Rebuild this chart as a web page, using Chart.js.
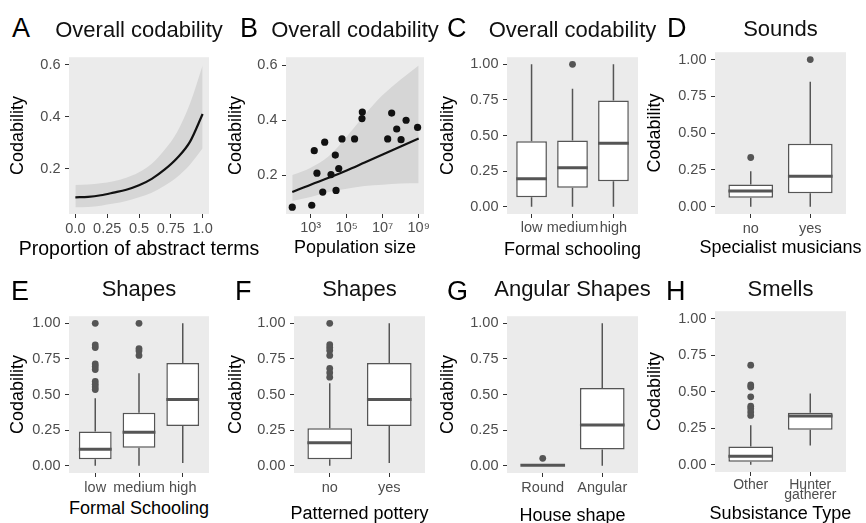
<!DOCTYPE html>
<html>
<head>
<meta charset="utf-8">
<script src="https://cdn.jsdelivr.net/npm/chart.js"></script>
<style>
  body { margin: 0; background: #fff; }
  #fig { position: relative; width: 866px; height: 523px; overflow: hidden; font-family: "Liberation Sans", Arial, sans-serif; }
  #fig canvas { position: absolute; }
  .letter { position: absolute; font-size: 27px; line-height: 1; color: #000; white-space: nowrap; }
  .title { position: absolute; font-size: 22px; line-height: 1; color: #111; white-space: nowrap; width: 300px; text-align: center; }
  .xtitle { position: absolute; font-size: 18px; line-height: 1; color: #000; white-space: nowrap; width: 300px; text-align: center; }
</style>
</head>
<body>
<div id="fig"></div>
<script>
// A: codability against proportion of abstract terms (fit and 95% band)
var abstractX    = [0, 0.1, 0.2, 0.3, 0.4, 0.5, 0.6, 0.7, 0.8, 0.9, 1.0];
var abstractFit  = [0.091, 0.093, 0.099, 0.109, 0.120, 0.137, 0.162, 0.197, 0.242, 0.304, 0.411];
var abstractLow  = [0.053, 0.054, 0.059, 0.067, 0.077, 0.091, 0.109, 0.135, 0.169, 0.216, 0.279];
var abstractHigh = [0.138, 0.140, 0.145, 0.153, 0.166, 0.187, 0.220, 0.273, 0.342, 0.450, 0.597];
var abstractTicks = [0, 0.25, 0.5, 0.75, 1];
var abstractTickLabels = ['0.0', '0.25', '0.5', '0.75', '1.0'];
var codTicks = [0.2, 0.4, 0.6];

// B: codability against population size
var popSize = [95, 1150, 1580, 2240, 4680, 6030, 13500, 23400, 25700, 36300, 55000,
               275000, 708000, 741000, 1.9e7, 3.16e7, 6.03e7, 1.05e8, 2.0e8, 8.7e8];
var popCod  = [0.083, 0.090, 0.289, 0.207, 0.138, 0.320, 0.202, 0.273, 0.144, 0.224, 0.332,
               0.332, 0.406, 0.430, 0.332, 0.426, 0.368, 0.329, 0.400, 0.374];
var popGrid = [95, 1e3, 1e4, 1e5, 1e6, 1e7, 1e8, 1e9];
var popFit  = [0.138, 0.165, 0.190, 0.217, 0.246, 0.275, 0.304, 0.333];
var popLow  = [0.105, 0.120, 0.138, 0.150, 0.160, 0.165, 0.169, 0.170];
var popHigh = [0.200, 0.227, 0.269, 0.340, 0.420, 0.492, 0.549, 0.600];
var popTicks = [1e3, 1e5, 1e7, 1e9];
var popTickLabels = ['10³', '10⁵', '10⁷', '10⁹'];

// box plots: [lower whisker, Q1, median, Q3, upper whisker] per category
var boxTicks = [0, 0.25, 0.5, 0.75, 1];

var schoolCats = ['low', 'medium', 'high'];
var schoolAll = [[0, 0.067, 0.198, 0.461, 1.0], [0, 0.134, 0.274, 0.465, 0.829], [0, 0.180, 0.447, 0.747, 1.0]];
var schoolAllOut = [[], [1.0], []];

var musicCats = ['no', 'yes'];
var musicSounds = [[0, 0.060, 0.107, 0.151, 0.240], [0, 0.091, 0.207, 0.428, 0.849]];
var musicSoundsOut = [[0.334], [1.0]];

var schoolShapes = [[0, 0.046, 0.117, 0.241, 0.475], [0, 0.128, 0.236, 0.372, 0.649], [0.02, 0.280, 0.466, 0.722, 1.0]];
var schoolShapesOut = [[1.0, 0.848, 0.830, 0.715, 0.697, 0.676, 0.592, 0.572, 0.553, 0.535], [1.0, 0.823, 0.807, 0.775], []];

var potteryCats = ['no', 'yes'];
var potteryShapes = [[0, 0.046, 0.163, 0.264, 0.580], [0.02, 0.280, 0.466, 0.722, 1.0]];
var potteryShapesOut = [[1.0, 0.850, 0.830, 0.810, 0.775, 0.683, 0.654, 0.622], []];

var houseCats = ['Round', 'Angular'];
var houseAngular = [[0, 0, 0.005, 0.010, 0.010], [0, 0.115, 0.287, 0.546, 1.0]];
var houseAngularOut = [[0.053], []];

var subsistCats = ['Other', ['Hunter', 'gatherer']];
var subsistSmells = [[0, 0.020, 0.058, 0.125, 0.270], [0.132, 0.239, 0.333, 0.355, 0.487]];
var subsistSmellsOut = [[0.681, 0.545, 0.531, 0.464, 0.400, 0.382, 0.360, 0.337], []];

// panel geometry (page pixels): plot box, y title centre, x tick centre, x title centre
var geo = {
  A: {pl: 69,  pr: 209, pt: 54,  pb: 214, ytx: 18.3,  xtl: 229,   xty: 249},
  B: {pl: 286, pr: 424, pt: 54,  pb: 214, ytx: 236,   xtl: 228.3, xty: 247.3},
  C: {pl: 507, pr: 638, pt: 54,  pb: 214, ytx: 448.3, xtl: 228.3, xty: 249.3},
  D: {pl: 715, pr: 846, pt: 49,  pb: 214, ytx: 655,   xtl: 229.3, xty: 247.3},
  E: {pl: 69,  pr: 209, pt: 313, pb: 473, ytx: 18.3,  xtl: 487.7, xty: 508.3},
  F: {pl: 294, pr: 425, pt: 313, pb: 473, ytx: 236,   xtl: 487.7, xty: 513.3},
  G: {pl: 507, pr: 638, pt: 313, pb: 473, ytx: 448.3, xtl: 487.7, xty: 515},
  H: {pl: 715, pr: 846, pt: 308, pb: 472, ytx: 655,   xtl: 485,   xty: 513.3}
};

var fig = document.getElementById('fig');
Chart.defaults.font.family = '"Liberation Sans", Arial, sans-serif';
Chart.defaults.animation = false;
Chart.defaults.plugins.legend.display = false;
Chart.defaults.plugins.tooltip.enabled = false;

var INK = '#555';
var TICK_COLOR = '#4d4d4d';

// grey panel background behind the data
var panelBg = {
  id: 'panelBg',
  beforeDraw: function (chart) {
    var a = chart.chartArea, ctx = chart.ctx;
    ctx.save();
    ctx.fillStyle = '#ebebeb';
    ctx.fillRect(a.left, a.top, a.right - a.left, a.bottom - a.top);
    ctx.restore();
  }
};

function addText(cls, text, left, top, size) {
  var d = document.createElement('div');
  d.className = cls;
  d.textContent = text;
  d.style.left = left + 'px';
  d.style.top = top + 'px';
  if (size) d.style.fontSize = size + 'px';
  fig.appendChild(d);
}

function frame(g) {
  var f = {L: Math.round(g.ytx - 12), T: Math.round(g.pt - 10), B: Math.round(g.xty + 12)};
  f.W = g.pr + 16 - f.L;
  f.H = f.B - f.T;
  return f;
}

function yAxis(g, f, min, max, ticks, digits) {
  return {
    type: 'linear', position: 'left', min: min, max: max,
    afterFit: function (s) { s.width = g.pl - f.L; },
    afterBuildTicks: function (s) { s.ticks = ticks.map(function (v) { return {value: v}; }); },
    ticks: {color: TICK_COLOR, font: {size: 14.5}, padding: 4.5,
            callback: function (v) { return Number(v).toFixed(digits); }},
    grid: {drawOnChartArea: false, tickLength: 4, color: '#333'},
    border: {display: false},
    title: {display: true, text: 'Codability', color: '#000', font: {size: 18},
            padding: {top: g.ytx - f.L - 10.8, bottom: 0}}
  };
}

// x axis title is written as page text (below) so it is never squeezed to the scale width
function xAxis(g, f, type, min, max, ticks, labels, title, opts) {
  opts = opts || {};
  var tickSize = opts.tickSize || 14.5;
  var tickLh = opts.tickLineHeight || 1.2;
  var size = opts.titleSize || 18;
  addText('xtitle', title, (g.pl + g.pr) / 2 - 150, g.xty - size / 2, size);
  return {
    type: type, position: 'bottom', min: min, max: max, offset: false,
    afterFit: function (s) { s.height = f.B - g.pb; },
    afterBuildTicks: function (s) { s.ticks = ticks.map(function (v) { return {value: v}; }); },
    ticks: {color: TICK_COLOR, font: {size: tickSize, lineHeight: tickLh},
            padding: g.xtl - g.pb - 4 - tickSize * tickLh / 2,
            autoSkip: false, maxRotation: 0, minRotation: 0,
            callback: function (v, i) { return labels[i]; }},
    grid: {drawOnChartArea: false, tickLength: 4, color: '#333', offset: false},
    border: {display: false},
    title: {display: false}
  };
}

function makeCanvas(f) {
  var c = document.createElement('canvas');
  c.width = f.W;
  c.height = f.H;
  c.style.left = f.L + 'px';
  c.style.top = f.T + 'px';
  fig.appendChild(c);
  return c;
}

function baseOptions(g, f, scales) {
  return {
    responsive: false,
    layout: {padding: {left: 0, top: g.pt - f.T, right: 16, bottom: 0}},
    scales: scales,
    plugins: {legend: {display: false}, tooltip: {enabled: false}}
  };
}

function pairs(xs, ys) {
  return xs.map(function (x, i) { return {x: x, y: ys[i]}; });
}

function curveChart(key, xs, fit, lo, hi, xScale, yScale, dots) {
  var g = geo[key], f = frame(g);
  var datasets = [
    {type: 'line', data: pairs(xs, fit), borderColor: '#111', borderWidth: 2.2, pointRadius: 0,
     cubicInterpolationMode: 'monotone', fill: false, order: 1},
    {type: 'line', data: pairs(xs, hi), borderColor: 'rgba(0,0,0,0)', borderWidth: 1, pointRadius: 0,
     cubicInterpolationMode: 'monotone', fill: '+1', backgroundColor: '#d6d6d6', order: 2},
    {type: 'line', data: pairs(xs, lo), borderColor: 'rgba(0,0,0,0)', borderWidth: 1, pointRadius: 0,
     cubicInterpolationMode: 'monotone', fill: false, order: 3}
  ];
  if (dots) {
    datasets.unshift({type: 'scatter', data: pairs(dots.x, dots.y), pointRadius: 3.6,
                      backgroundColor: '#111', borderWidth: 0, order: 0});
  }
  new Chart(makeCanvas(f), {
    type: 'scatter',
    data: {datasets: datasets},
    options: baseOptions(g, f, {x: xScale(g, f), y: yScale(g, f)}),
    plugins: [panelBg]
  });
}

function boxChart(key, cats, stats, outliers, xTitle, xOpts) {
  var g = geo[key], f = frame(g);
  var boxes = [], whiskers = [], medians = [], points = [], tickVals = [];
  stats.forEach(function (s, i) {
    var x = i + 1;
    tickVals.push(x);
    boxes.push({x: x, y: [s[1], s[3]]});
    whiskers.push({x: x, y: s[0]}, {x: x, y: s[1]}, {x: x, y: null},
                  {x: x, y: s[3]}, {x: x, y: s[4]}, {x: x, y: null});
    medians.push({x: x - 0.375, y: s[2]}, {x: x + 0.375, y: s[2]}, {x: x, y: null});
    outliers[i].forEach(function (v) { points.push({x: x, y: v}); });
  });
  var datasets = [
    {type: 'line', data: medians, borderColor: INK, borderWidth: 3, pointRadius: 0, spanGaps: false, order: 0},
    {type: 'scatter', data: points, pointRadius: 3.4, backgroundColor: INK, borderWidth: 0, order: 1},
    {type: 'bar', data: boxes, backgroundColor: '#fff', borderColor: INK, borderWidth: 1.5,
     borderSkipped: false, barPercentage: 0.75, categoryPercentage: 1, order: 2},
    {type: 'line', data: whiskers, borderColor: INK, borderWidth: 1.5, pointRadius: 0, spanGaps: false, order: 3}
  ];
  var scales = {
    x: xAxis(g, f, 'linear', 0.4, cats.length + 0.6, tickVals, cats, xTitle, xOpts),
    y: yAxis(g, f, -0.05, 1.05, boxTicks, 2)
  };
  new Chart(makeCanvas(f), {
    type: 'scatter',
    data: {datasets: datasets},
    options: baseOptions(g, f, scales),
    plugins: [panelBg]
  });
}

// A
curveChart('A', abstractX, abstractFit, abstractLow, abstractHigh,
  function (g, f) { return xAxis(g, f, 'linear', -0.05, 1.05, abstractTicks, abstractTickLabels,
                                 'Proportion of abstract terms', {titleSize: 19.5}); },
  function (g, f) { return yAxis(g, f, 0.027, 0.629, codTicks, 1); });

// B
curveChart('B', popGrid, popFit, popLow, popHigh,
  function (g, f) { return xAxis(g, f, 'logarithmic', Math.pow(10, 1.63), Math.pow(10, 9.296),
                                 popTicks, popTickLabels, 'Population size'); },
  function (g, f) { return yAxis(g, f, 0.058, 0.63, codTicks, 1); },
  {x: popSize, y: popCod});

boxChart('C', schoolCats, schoolAll, schoolAllOut, 'Formal schooling');
boxChart('D', musicCats, musicSounds, musicSoundsOut, 'Specialist musicians');
boxChart('E', schoolCats, schoolShapes, schoolShapesOut, 'Formal Schooling');
boxChart('F', potteryCats, potteryShapes, potteryShapesOut, 'Patterned pottery');
boxChart('G', houseCats, houseAngular, houseAngularOut, 'House shape');
boxChart('H', subsistCats, subsistSmells, subsistSmellsOut, 'Subsistance Type',
         {tickSize: 14, tickLineHeight: 0.72});

// panel letters and titles
var letters = [['A', 12, 37.5], ['B', 240, 37.5], ['C', 447, 37.5], ['D', 667, 37.5],
               ['E', 11, 301], ['F', 235, 301], ['G', 447, 301], ['H', 666, 301]];
letters.forEach(function (l) { addText('letter', l[0], l[1], l[2] - 27 * 0.8465); });

var titles = [['A', 'Overall codability', 38], ['B', 'Overall codability', 38],
              ['C', 'Overall codability', 38], ['D', 'Sounds', 36.7],
              ['E', 'Shapes', 296.5], ['F', 'Shapes', 296.5],
              ['G', 'Angular Shapes', 296.5], ['H', 'Smells', 296.5]];
titles.forEach(function (t) {
  var g = geo[t[0]];
  addText('title', t[1], (g.pl + g.pr) / 2 - 150, t[2] - 22 * 0.8465);
});
</script>
</body>
</html>
